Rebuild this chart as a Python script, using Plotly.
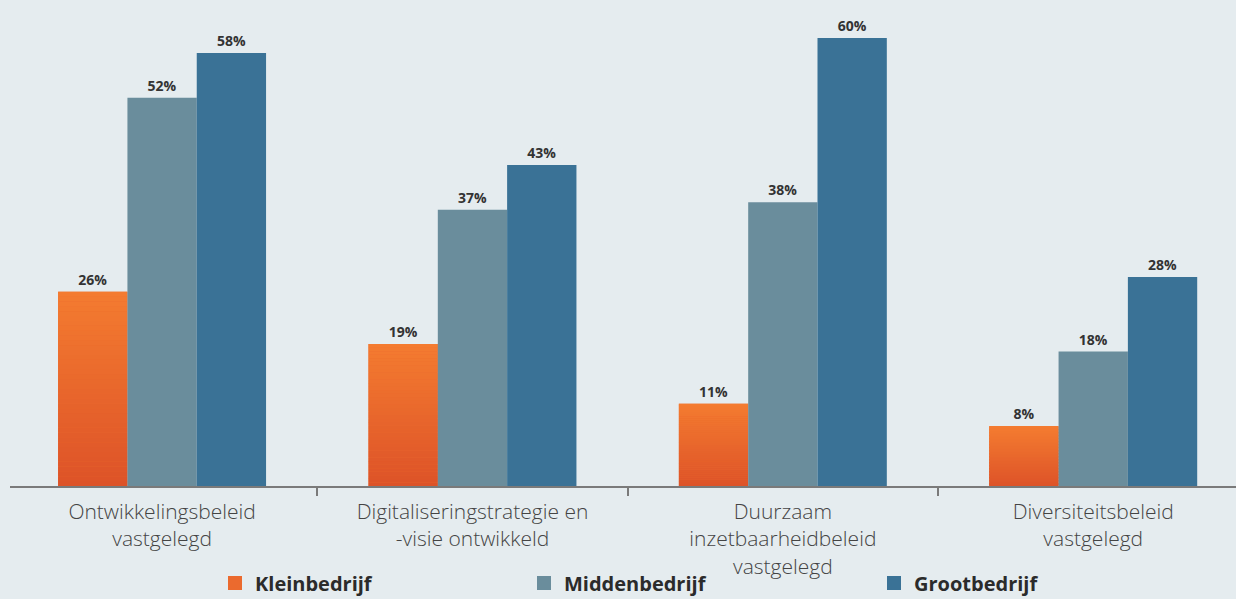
import plotly.graph_objects as go

categories = ["Ontwikkelingsbeleid<br>vastgelegd",
              "Digitaliseringstrategie en<br>-visie ontwikkeld",
              "Duurzaam<br>inzetbaarheidbeleid<br>vastgelegd",
              "Diversiteitsbeleid<br>vastgelegd"]
klein = [26, 19, 11, 8]
midden = [52, 37, 38, 18]
groot = [58, 43, 60, 28]
series_names = ["Kleinbedrijf", "Middenbedrijf", "Grootbedrijf"]

C_MID = "#6A8D9C"
C_GROOT = "#3A7296"
C_TOP = (244, 124, 48)
C_BOT = (221, 82, 40)
BG = "#E5ECEF"

label_font = dict(family="Open Sans", size=14, color="#333333", weight=700)


def labels(vals):
    return [f"{v}%" for v in vals]


fig = go.Figure()

# Kleinbedrijf: full bar carrying the label
fig.add_trace(go.Bar(x=categories, y=klein, name=series_names[0], offsetgroup="k",
                     marker=dict(color="#EB6A2E", line=dict(width=0)),
                     text=labels(klein), textposition="outside",
                     textfont=label_font, cliponaxis=False, showlegend=False))
# gradient overlay made of stacked slices
N = 40
for i in range(N):
    t = (i + 0.5) / N
    col = tuple(round(C_BOT[j] + (C_TOP[j] - C_BOT[j]) * t) for j in range(3))
    fig.add_trace(go.Bar(x=categories, y=[v / N * 1.02 for v in klein],
                         base=[v * i / N for v in klein], offsetgroup="k",
                         marker=dict(color="rgb(%d,%d,%d)" % col, line=dict(width=0)),
                         showlegend=False, hoverinfo="skip"))

fig.add_trace(go.Bar(x=categories, y=midden, name=series_names[1], offsetgroup="m",
                     marker=dict(color=C_MID, line=dict(width=0)),
                     text=labels(midden), textposition="outside",
                     textfont=label_font, cliponaxis=False, showlegend=False))
fig.add_trace(go.Bar(x=categories, y=groot, name=series_names[2], offsetgroup="g",
                     marker=dict(color=C_GROOT, line=dict(width=0)),
                     text=labels(groot), textposition="outside",
                     textfont=label_font, cliponaxis=False, showlegend=False))

# legend entries (separate legends for exact placement)
leg_cols = ["#EB6A2E", C_MID, C_GROOT]
leg_ids = ["legend", "legend2", "legend3"]
for name, col, lid in zip(series_names, leg_cols, leg_ids):
    fig.add_trace(go.Scatter(x=[None], y=[None], name=name, mode="markers",
                             marker=dict(color=col, symbol="square", size=14),
                             showlegend=True, legend=lid))

leg_font = dict(family="Open Sans", size=20, color="#2b2b2b", weight=700)
leg_x = [215, 524, 874]
legends = {}
for lid, px in zip(leg_ids, leg_x):
    legends[lid] = dict(x=(px - 10) / 1226, xref="paper", y=-0.2, yref="paper",
                        xanchor="left", yanchor="middle", orientation="h",
                        bgcolor="rgba(0,0,0,0)", font=leg_font, itemwidth=30)

fig.update_layout(
    width=1236, height=599,
    margin=dict(l=10, r=0, t=1, b=113, autoexpand=False),
    paper_bgcolor=BG, plot_bgcolor=BG,
    barmode="group", bargap=0.33, bargroupgap=0,
    **legends,
    xaxis=dict(range=[-0.49, 3.46], showgrid=False, showline=True, linecolor="#7a7a7a",
               linewidth=1.5, ticks="outside", tickson="boundaries", ticklen=8,
               tickcolor="#7a7a7a", tickwidth=1.5, ticklabelstandoff=6,
               tickfont=dict(family="Open Sans", size=21, color="#444444", weight=300)),
    yaxis=dict(range=[0, 64.95], visible=False, showgrid=False, zeroline=False),
)

fig.write_html("out.html")
